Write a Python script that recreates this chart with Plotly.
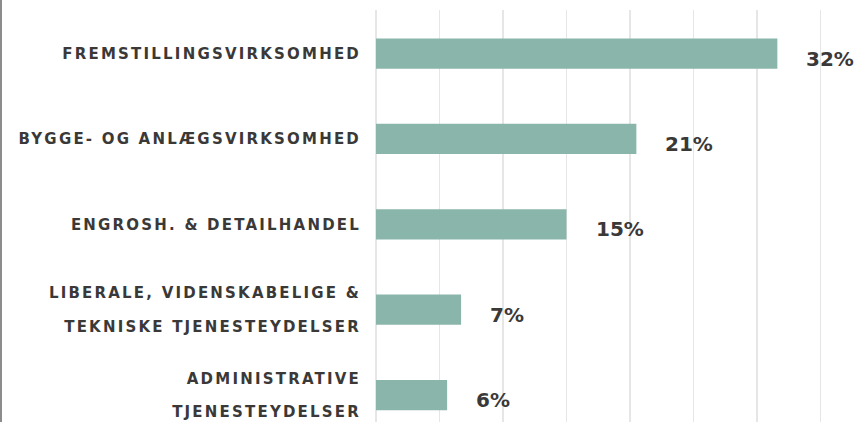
import plotly.graph_objects as go

categories = [
    "FREMSTILLINGSVIRKSOMHED",
    "BYGGE- OG ANLÆGSVIRKSOMHED",
    "ENGROSH. & DETAILHANDEL",
    "LIBERALE, VIDENSKABELIGE &<br><br>TEKNISKE TJENESTEYDELSER",
    "ADMINISTRATIVE<br><br>TJENESTEYDELSER",
]
values = [31.6, 20.5, 15.0, 6.7, 5.6]
value_labels = ["32%", "21%", "15%", "7%", "6%"]

BAR = "#8AB5AA"
TXT = "#3B3938"
GRID = "#E6E6E6"
FONT = "DejaVu Sans"

fig = go.Figure()
fig.add_trace(go.Bar(
    x=values, y=categories, orientation="h",
    marker=dict(color=BAR, line=dict(width=0)),
    hoverinfo="skip",
))

for v, c, t in zip(values, categories, value_labels):
    fig.add_annotation(
        x=v, y=c, text=t, showarrow=False,
        xanchor="left", yanchor="middle", xshift=27, yshift=-5,
        font=dict(family=FONT, size=20, color=TXT, weight=700),
    )

fig.add_shape(type="line", xref="paper", yref="paper",
              x0=-0.778, x1=-0.778, y0=0, y1=1.03,
              line=dict(color="#8C8C8C", width=2))

fig.update_layout(
    width=858, height=424,
    margin=dict(l=376, r=0, t=10, b=0),
    paper_bgcolor="white", plot_bgcolor="white",
    bargap=0.645,
    showlegend=False,
    xaxis=dict(range=[0, 37.95], dtick=5, tick0=0, showgrid=True,
               gridcolor=GRID, gridwidth=1.5, showticklabels=False,
               zeroline=True, zerolinecolor=GRID, zerolinewidth=1.5,
               showline=False, ticks=""),
    yaxis=dict(categoryorder="array", categoryarray=categories,
               range=[4.315, -0.51], showgrid=False, zeroline=False,
               showline=False, ticks="", ticklabelstandoff=14,
               tickfont=dict(family=FONT, size=15, color=TXT, weight=700)),
)

post = """
document.body.style.margin = '0';
document.body.style.overflow = 'hidden';
var gd = document.getElementById('{plot_id}');
gd.querySelectorAll('.ytick text').forEach(function(t){
    t.style.letterSpacing = '2.2px';
    var lines = t.querySelectorAll('tspan.line');
    if (lines.length === 3) {
        lines[0].setAttribute('dy', '0.183em');
        lines[2].setAttribute('dy', '2.417em');
    }
});
"""
fig.write_html("out.html", post_script=post, config={"displayModeBar": False, "staticPlot": True})
